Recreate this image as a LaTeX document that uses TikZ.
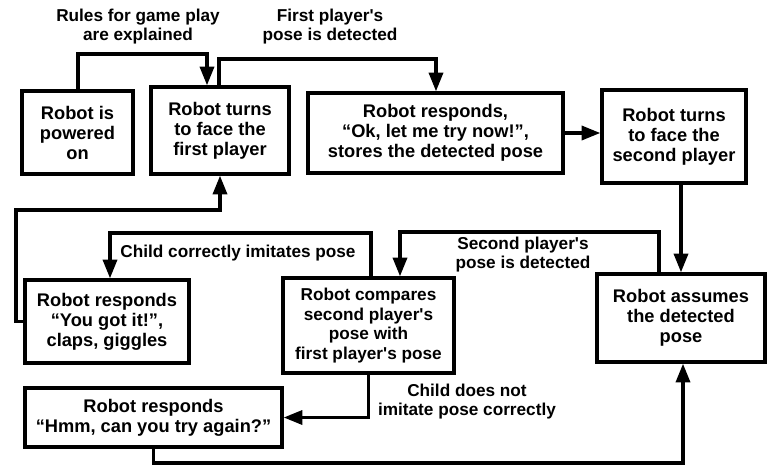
\documentclass[tikz,border=0pt]{standalone}
\usepackage{fontspec}
\setmainfont{Liberation Sans}
\usetikzlibrary{arrows.meta}

\begin{document}
\begin{tikzpicture}[x=0.75pt, y=-0.75pt,
        box/.style={draw, line width=2.5pt, align=center, inner sep=2pt,
            font=\bfseries\fontsize{13.7}{15}\selectfont},
        lbl/.style={align=center, inner sep=1pt,
            font=\bfseries\fontsize{12.9}{14.3}\selectfont},
        flow/.style={line width=2.5pt, -{Triangle[length=14pt, width=10.5pt]}}]
        \useasboundingbox (0,0) rectangle (768,465);

        % boxes
        \node[box, minimum width=83.25pt, minimum height=62.25pt] (powered) at (77.5,132.5) {Robot is\\powered\\on};
        \node[box, minimum width=103.5pt, minimum height=65.25pt] (turnA) at (220,130.5) {Robot turns\\to face the\\first player};
        \node[box, minimum width=191.25pt, minimum height=60pt] (respond) at (435.5,133) {Robot responds,\\“Ok, let me try now!”,\\stores the detected pose};
        \node[box, minimum width=108pt, minimum height=69.75pt] (turnB) at (674,136.5) {Robot turns\\to face the\\second player};
        \node[box, minimum width=123pt, minimum height=62.25pt] (gotit) at (107,321.5) {Robot responds\\“You got it!”,\\claps, giggles};
        \node[box, minimum width=128.25pt, minimum height=71.25pt,
            font=\bfseries\fontsize{12.9}{14.6}\selectfont] (compare) at (368.5,325.5)
            {Robot compares\\second player\textquotesingle s\\pose with\\first player\textquotesingle s pose};
        \node[box, minimum width=126pt, minimum height=66pt] (assume) at (681,318) {Robot assumes\\the detected\\pose};
        \node[box, minimum width=192.75pt, minimum height=44.25pt] (tryagain) at (153.5,417.5) {Robot responds\\“Hmm, can you try again?”};

        % labels
        \node[lbl] (rulesLbl) at (138,27) {Rules for game play\\are explained};
        \node[lbl] (firstLbl) at (330,27) {First player\textquotesingle s\\pose is detected};
        \node[lbl] (secondLbl) at (523,255) {Second player\textquotesingle s\\pose is detected};
        \node[lbl] (correctLbl) at (238,253) {Child correctly imitates pose};
        \node[lbl] (notLbl) at (467,402) {Child does not\\imitate pose correctly};

        % corners of the connectors
        \coordinate (c1) at (78,54);
        \coordinate (c2) at (207,54);
        \coordinate (d1) at (219,59);
        \coordinate (d2) at (436,59);
        \coordinate (e1) at (659,232);
        \coordinate (e2) at (400,232);
        \coordinate (f1) at (371,233);
        \coordinate (f2) at (110,233);
        \coordinate (g1) at (16,210);
        \coordinate (g2) at (220,210);
        \coordinate (k1) at (683,463);

        \draw[flow] (powered.north -| c1) |- (c2) -- (turnA.north -| c2);
        \draw[flow] (turnA.north -| d1) |- (d2) -- (respond.north -| d2);
        \draw[flow] (respond.east) -- (respond.east -| turnB.west);
        \draw[flow] (turnB.south -| assume.north) -- (assume.north);
        \draw[flow] (assume.north -| e1) |- (e2) -- (compare.north -| e2);
        \draw[flow] (compare.north -| f1) |- (f2) -- (gotit.north -| f2);
        \draw[flow] (gotit.west) -| (g1) -- (g2) -- (turnA.south -| g2);
        \draw[flow] (compare.south) |- (tryagain.east);
        \draw[flow] (tryagain.south) |- (k1) -- (assume.south -| k1);
    \end{tikzpicture}
\end{document}
